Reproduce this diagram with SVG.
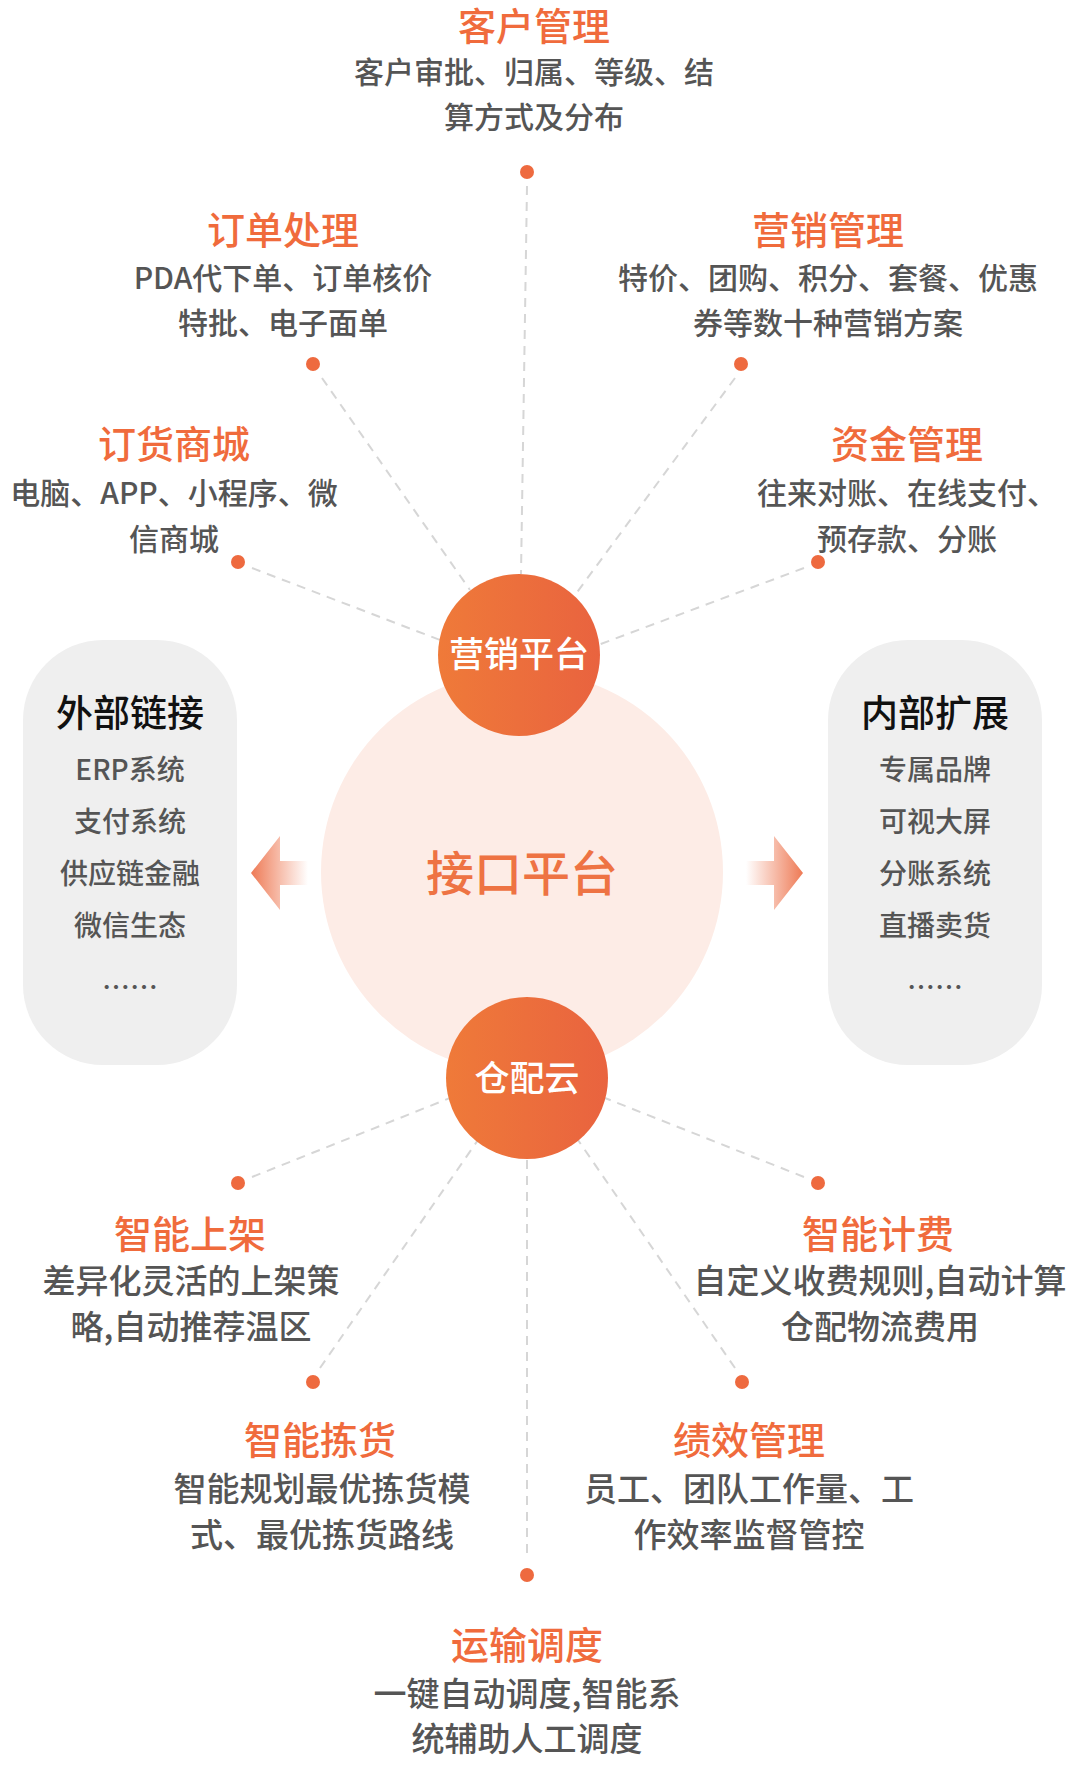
<svg xmlns="http://www.w3.org/2000/svg" width="1080" height="1785" viewBox="0 0 1080 1785">
<defs>
<linearGradient id="og" x1="0" y1="0" x2="1" y2="0"><stop offset="0" stop-color="#ef7a39"/><stop offset="1" stop-color="#e9633f"/></linearGradient>
<linearGradient id="al" x1="0" y1="0" x2="1" y2="0"><stop offset="0" stop-color="#ee7a55"/><stop offset="1" stop-color="#ee7a55" stop-opacity="0"/></linearGradient>
<linearGradient id="ar" x1="1" y1="0" x2="0" y2="0"><stop offset="0" stop-color="#ee7a55"/><stop offset="1" stop-color="#ee7a55" stop-opacity="0"/></linearGradient>
<style>
text{font-family:"Noto Sans CJK SC","Noto Sans",sans-serif;text-anchor:middle;font-weight:500}
.t{font-size:38px;fill:#f06b3c}
.b{font-size:30px;fill:#555}
.bb{font-size:33px;fill:#555}
.dot{fill:#ee6a3f}
.dash{stroke:#d6d6d6;stroke-width:2;stroke-dasharray:9 7;fill:none}
.box{fill:#efefef}
.bt{font-size:37px;fill:#111}
.bi{font-size:28px;fill:#555}
.w{font-size:35px;fill:#fff}
</style>
</defs>
<g id="connectors">
<line class="dash" x1="527" y1="186" x2="521" y2="574"/>
<line class="dash" x1="322" y1="378" x2="470" y2="590"/>
<line class="dash" x1="735" y1="378" x2="575" y2="595"/>
<line class="dash" x1="252" y1="568" x2="440" y2="640"/>
<line class="dash" x1="804" y1="568" x2="598" y2="645"/>
<line class="dash" x1="252" y1="1177" x2="450" y2="1098"/>
<line class="dash" x1="804" y1="1177" x2="605" y2="1098"/>
<line class="dash" x1="320" y1="1368" x2="478" y2="1140"/>
<line class="dash" x1="735" y1="1368" x2="578" y2="1140"/>
<line class="dash" x1="527" y1="1160" x2="527" y2="1560"/>
</g>
<g id="hub"><circle cx="522" cy="872" r="201" fill="#fdece6"/><text x="522" y="891" style="font-size:48px;fill:#ee7343">接口平台</text></g>
<g id="yingxiao"><circle cx="519" cy="655" r="81" fill="url(#og)"/><text class="w" x="519" y="667">营销平台</text></g>
<g id="cangpei"><circle cx="527" cy="1078" r="81" fill="url(#og)"/><text class="w" x="527" y="1091">仓配云</text></g>
<g id="arrow-left"><path d="M251 873 L280 836 L280 861 L308 861 L308 885 L280 885 L280 910 Z" fill="url(#al)"/></g>
<g id="arrow-right"><path d="M803 873 L774 836 L774 861 L746 861 L746 885 L774 885 L774 910 Z" fill="url(#ar)"/></g>
<g id="external"><rect class="box" x="23" y="640" width="214" height="425" rx="80"/>
<text class="bt" x="130" y="727">外部链接</text>
<text class="bi" x="130" y="780">ERP系统</text><text class="bi" x="130" y="832">支付系统</text><text class="bi" x="130" y="884">供应链金融</text><text class="bi" x="130" y="936">微信生态</text><text class="bi" x="130" y="998">……</text></g>
<g id="internal"><rect class="box" x="828" y="640" width="214" height="425" rx="80"/>
<text class="bt" x="935" y="727">内部扩展</text>
<text class="bi" x="935" y="780">专属品牌</text><text class="bi" x="935" y="832">可视大屏</text><text class="bi" x="935" y="884">分账系统</text><text class="bi" x="935" y="936">直播卖货</text><text class="bi" x="935" y="998">……</text></g>
<g id="kehu"><text class="t" x="534" y="40">客户管理</text><text class="b" x="534" y="83">客户审批、归属、等级、结</text><text class="b" x="534" y="128">算方式及分布</text><circle class="dot" cx="527" cy="172" r="7"/></g>
<g id="dingdan"><text class="t" x="283" y="244">订单处理</text><text class="b" x="283" y="289">PDA代下单、订单核价</text><text class="b" x="283" y="334">特批、电子面单</text><circle class="dot" cx="313" cy="364" r="7"/></g>
<g id="yxgl"><text class="t" x="828" y="244">营销管理</text><text class="b" x="828" y="289">特价、团购、积分、套餐、优惠</text><text class="b" x="828" y="334">券等数十种营销方案</text><circle class="dot" cx="741" cy="364" r="7"/></g>
<g id="dinghuo"><text class="t" x="174" y="458">订货商城</text><text class="b" x="174" y="504">电脑、APP、小程序、微</text><text class="b" x="174" y="550">信商城</text><circle class="dot" cx="238" cy="562" r="7"/></g>
<g id="zijin"><text class="t" x="907" y="458">资金管理</text><text class="b" x="907" y="504">往来对账、在线支付、</text><text class="b" x="907" y="550">预存款、分账</text><circle class="dot" cx="818" cy="562" r="7"/></g>
<g id="shangjia"><circle class="dot" cx="238" cy="1183" r="7"/><text class="t" x="190" y="1248">智能上架</text><text class="bb" x="191" y="1293">差异化灵活的上架策</text><text class="bb" x="191" y="1339">略,自动推荐温区</text></g>
<g id="jifei"><circle class="dot" cx="818" cy="1183" r="7"/><text class="t" x="878" y="1248">智能计费</text><text class="bb" x="880" y="1293">自定义收费规则,自动计算</text><text class="bb" x="880" y="1339">仓配物流费用</text></g>
<g id="jianhuo"><circle class="dot" cx="313" cy="1382" r="7"/><text class="t" x="320" y="1454">智能拣货</text><text class="bb" x="322" y="1501">智能规划最优拣货模</text><text class="bb" x="322" y="1547">式、最优拣货路线</text></g>
<g id="jixiao"><circle class="dot" cx="742" cy="1382" r="7"/><text class="t" x="749" y="1454">绩效管理</text><text class="bb" x="749" y="1501">员工、团队工作量、工</text><text class="bb" x="749" y="1547">作效率监督管控</text></g>
<g id="yunshu"><circle class="dot" cx="527" cy="1575" r="7"/><text class="t" x="527" y="1659">运输调度</text><text class="bb" x="527" y="1706">一键自动调度,智能系</text><text class="bb" x="527" y="1751">统辅助人工调度</text></g>
</svg>
